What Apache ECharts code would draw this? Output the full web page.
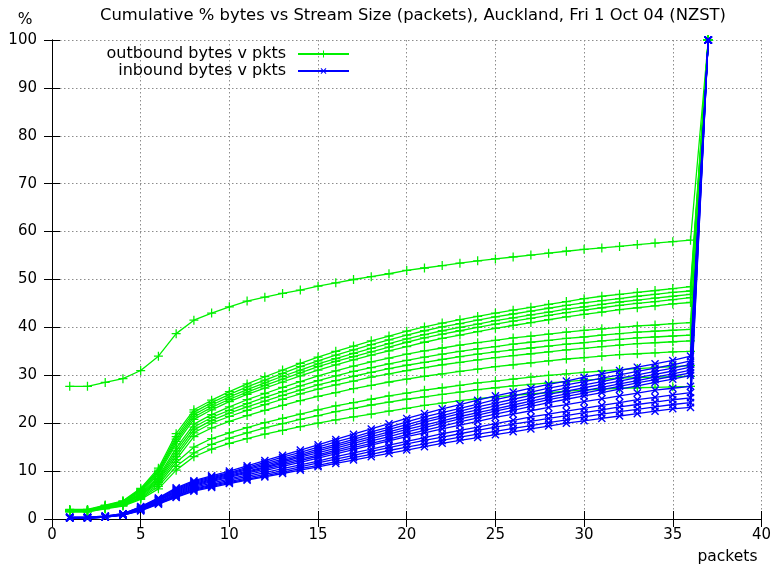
<!DOCTYPE html>
<html>
<head>
<meta charset="utf-8">
<title>Cumulative % bytes vs Stream Size</title>
<script src="https://cdn.jsdelivr.net/npm/echarts@6/dist/echarts.min.js"></script>
<style>
  html, body { margin: 0; padding: 0; background: #fff; }
  #chart { width: 774px; height: 567px; }
</style>
</head>
<body>
<div id="chart"></div>
<script>
// stream size in packets (x) and axis ticks
const packets = [1,2,3,4,5,6,7,8,9,10,11,12,13,14,15,16,17,18,19,20,21,22,23,24,25,26,27,28,29,30,31,32,33,34,35,36,37];
const xTicks = [0, 5, 10, 15, 20, 25, 30, 35, 40];
const yTicks = [0, 10, 20, 30, 40, 50, 60, 70, 80, 90, 100];

// outbound bytes v pkts, one array per trace (cumulative %)
const out01 = [27.7,27.7,28.5,29.3,31.0,34.0,38.7,41.5,43.0,44.3,45.5,46.3,47.1,47.8,48.6,49.3,50.0,50.6,51.2,51.9,52.4,52.9,53.4,53.9,54.3,54.7,55.1,55.5,55.9,56.3,56.6,56.9,57.3,57.6,57.9,58.2,100];
const out02 = [2.0,2.0,2.9,3.8,6.4,10.6,17.8,22.8,24.8,26.6,28.2,29.7,31.1,32.5,33.8,35.0,36.1,37.2,38.2,39.2,40.1,40.9,41.6,42.3,43.0,43.6,44.2,44.8,45.4,46.0,46.5,46.9,47.3,47.7,48.1,48.5,100];
const out03 = [1.9,1.9,2.8,3.7,6.2,10.2,17.2,22.3,24.3,26.0,27.6,29.0,30.4,31.8,33.0,34.2,35.3,36.4,37.4,38.4,39.3,40.1,40.8,41.5,42.2,42.8,43.4,44.0,44.6,45.1,45.6,46.0,46.5,46.9,47.3,47.6,100];
const out04 = [1.9,1.9,2.7,3.6,6.0,9.9,16.7,21.8,23.8,25.5,27.0,28.4,29.8,31.1,32.4,33.5,34.6,35.6,36.6,37.6,38.5,39.3,40.0,40.7,41.4,42.0,42.6,43.2,43.8,44.3,44.8,45.3,45.7,46.1,46.5,46.9,100];
const out05 = [1.8,1.8,2.7,3.5,5.9,9.6,16.2,21.3,23.3,25.0,26.5,27.9,29.2,30.5,31.8,32.9,33.9,34.9,35.9,36.9,37.8,38.6,39.3,40.0,40.7,41.3,41.9,42.5,43.1,43.6,44.1,44.6,45.0,45.4,45.8,46.2,100];
const out06 = [1.8,1.8,2.6,3.4,5.7,9.3,15.7,20.8,22.8,24.5,26.0,27.3,28.6,29.9,31.1,32.2,33.2,34.2,35.1,36.0,36.9,37.7,38.4,39.1,39.8,40.4,41.0,41.6,42.2,42.7,43.2,43.7,44.1,44.5,44.9,45.2,100];
const out07 = [1.8,1.8,2.6,3.4,5.4,8.8,14.8,19.8,21.8,23.4,24.9,26.2,27.5,28.7,29.9,30.9,31.9,32.8,33.6,34.4,35.1,35.7,36.3,36.8,37.3,37.8,38.2,38.6,39.0,39.4,39.7,40.0,40.3,40.5,40.8,41.0,100];
const out08 = [1.7,1.7,2.5,3.3,5.2,8.5,14.2,19.2,21.2,22.7,24.1,25.4,26.6,27.8,28.9,29.9,30.8,31.6,32.4,33.1,33.8,34.4,35.0,35.5,36.0,36.5,36.9,37.3,37.7,38.0,38.4,38.7,39.0,39.2,39.4,39.6,100];
const out09 = [1.7,1.7,2.5,3.2,5.0,8.2,13.6,18.6,20.6,22.1,23.4,24.6,25.8,26.9,28.0,28.9,29.8,30.6,31.4,32.1,32.7,33.3,33.9,34.4,34.9,35.3,35.7,36.1,36.5,36.8,37.2,37.5,37.8,38.0,38.2,38.4,100];
const out10 = [1.6,1.6,2.4,3.1,4.9,7.9,13.0,18.0,20.0,21.4,22.7,23.9,25.0,26.1,27.1,28.0,28.8,29.6,30.3,31.0,31.6,32.2,32.7,33.2,33.7,34.1,34.5,34.9,35.3,35.6,36.0,36.3,36.6,36.8,37.0,37.2,100];
const out11 = [1.6,1.6,2.3,3.0,4.7,7.6,12.4,17.2,19.0,20.4,21.6,22.7,23.7,24.7,25.6,26.4,27.2,27.9,28.6,29.2,29.8,30.3,30.8,31.3,31.8,32.2,32.6,33.0,33.4,33.7,34.0,34.3,34.5,34.7,34.9,35.0,100];
const out12 = [1.6,1.6,2.3,2.9,4.5,7.2,11.8,15.0,16.8,18.0,19.1,20.1,21.0,21.9,22.8,23.6,24.3,25.0,25.7,26.3,26.9,27.4,27.9,28.4,28.8,29.2,29.6,30.0,30.3,30.6,30.9,31.2,31.4,31.6,31.8,32.0,100];
const out13 = [1.5,1.5,2.2,2.8,4.3,6.8,11.0,13.8,15.6,16.9,18.0,19.0,19.9,20.8,21.6,22.4,23.1,23.8,24.4,25.0,25.5,26.0,26.5,27.0,27.4,27.8,28.1,28.4,28.7,29.0,29.2,29.4,29.5,29.6,29.7,29.8,100];
const out14 = [1.5,1.5,2.1,2.7,4.1,6.3,10.2,13.0,14.6,15.8,16.8,17.7,18.5,19.3,20.0,20.7,21.3,21.9,22.5,23.1,23.7,24.2,24.7,25.1,25.5,25.8,26.1,26.4,26.7,26.9,27.1,27.3,27.4,27.5,27.6,27.7,100];

// inbound bytes v pkts, one array per trace (cumulative %)
const in01 = [0.4,0.4,0.6,1.1,2.6,4.4,6.5,8.0,9.0,10.0,11.1,12.2,13.3,14.4,15.5,16.6,17.7,18.8,19.9,21.0,22.0,23.0,23.9,24.8,25.7,26.5,27.3,28.1,28.8,29.6,30.3,31.0,31.7,32.4,33.1,34.0,100];
const in02 = [0.4,0.4,0.6,1.1,2.5,4.3,6.3,7.8,8.8,9.7,10.8,11.8,12.9,13.9,15.0,16.1,17.1,18.2,19.2,20.3,21.3,22.2,23.1,24.0,24.9,25.7,26.5,27.3,28.0,28.7,29.4,30.1,30.8,31.5,32.2,33.0,100];
const in03 = [0.3,0.3,0.5,1.0,2.4,4.1,6.1,7.6,8.6,9.5,10.5,11.5,12.5,13.5,14.6,15.6,16.6,17.7,18.7,19.7,20.7,21.6,22.5,23.4,24.2,25.0,25.8,26.6,27.3,28.0,28.7,29.4,30.1,30.8,31.5,32.3,100];
const in04 = [0.3,0.3,0.5,1.0,2.3,4.0,5.9,7.4,8.4,9.3,10.3,11.2,12.2,13.2,14.2,15.2,16.2,17.2,18.2,19.2,20.2,21.1,22.0,22.8,23.6,24.4,25.2,26.0,26.7,27.4,28.1,28.8,29.5,30.2,30.9,31.7,100];
const in05 = [0.3,0.3,0.5,1.0,2.2,3.9,5.7,7.2,8.2,9.1,10.0,10.9,11.9,12.9,13.8,14.8,15.8,16.8,17.7,18.7,19.6,20.5,21.4,22.2,23.0,23.8,24.6,25.4,26.1,26.8,27.5,28.2,28.9,29.6,30.3,31.1,100];
const in06 = [0.3,0.3,0.5,0.9,2.1,3.8,5.5,7.0,8.0,8.9,9.8,10.7,11.6,12.5,13.4,14.4,15.3,16.3,17.2,18.2,19.1,20.0,20.9,21.7,22.5,23.3,24.1,24.9,25.6,26.3,27.0,27.7,28.4,29.1,29.8,30.5,100];
const in07 = [0.2,0.2,0.4,0.9,2.0,3.6,5.3,6.8,7.8,8.7,9.6,10.4,11.3,12.2,13.1,14.0,14.9,15.8,16.7,17.6,18.5,19.4,20.3,21.1,21.9,22.7,23.5,24.3,25.0,25.7,26.4,27.1,27.8,28.5,29.2,30.0,100];
const in08 = [0.3,0.3,0.5,0.9,2.0,3.5,5.1,6.6,7.5,8.4,9.2,10.1,11.0,11.8,12.7,13.6,14.5,15.4,16.3,17.2,18.0,18.8,19.6,20.4,21.2,21.9,22.6,23.3,23.9,24.5,25.1,25.7,26.3,26.9,27.3,27.7,100];
const in09 = [0.2,0.2,0.4,0.9,1.9,3.4,4.9,6.4,7.2,8.1,8.9,9.7,10.5,11.3,12.1,13.0,13.8,14.6,15.4,16.2,17.0,17.8,18.5,19.2,19.9,20.6,21.3,21.9,22.5,23.1,23.7,24.3,24.9,25.4,25.9,26.4,100];
const in10 = [0.2,0.2,0.4,0.8,1.9,3.3,4.8,6.2,7.0,7.8,8.6,9.3,10.1,10.9,11.7,12.5,13.3,14.1,14.9,15.7,16.4,17.1,17.8,18.5,19.2,19.8,20.4,21.0,21.6,22.2,22.8,23.4,23.9,24.4,24.9,25.3,100];
const in11 = [0.2,0.2,0.4,0.8,1.8,3.2,4.6,6.0,6.8,7.6,8.3,9.0,9.8,10.5,11.2,12.0,12.8,13.5,14.3,15.0,15.7,16.4,17.1,17.7,18.3,18.9,19.5,20.1,20.7,21.3,21.9,22.4,22.9,23.4,23.9,24.3,100];
const in12 = [0.2,0.2,0.4,0.8,1.7,3.1,4.5,5.8,6.6,7.4,8.1,8.8,9.5,10.2,10.9,11.6,12.3,13.0,13.7,14.4,15.1,15.8,16.4,17.0,17.6,18.2,18.8,19.4,20.0,20.5,21.0,21.5,22.0,22.5,23.0,23.3,100];

const outboundTraces = [out01, out02, out03, out04, out05, out06, out07, out08, out09, out10, out11, out12, out13, out14];
const inboundTraces = [in01, in02, in03, in04, in05, in06, in07, in08, in09, in10, in11, in12];

const OUT_NAME = 'outbound bytes v pkts';
const IN_NAME = 'inbound bytes v pkts';
const FONT = 'DejaVu Sans';

// gnuplot style point markers: a filled plus ('x' is the same shape rotated)
const plusPath = 'path://M4.3,0H5.7V4.3H10V5.7H5.7V10H4.3V5.7H0V4.3H4.3Z';

function toPoints(values) {
  return packets.map((p, i) => [p, values[i]]);
}

function makeSeries(values, name, color, rotate, z) {
  return {
    name: name,
    type: 'line',
    data: toPoints(values),
    symbol: plusPath,
    symbolSize: rotate ? 10 : 9,
    symbolRotate: rotate,
    showSymbol: true,
    z: z,
    lineStyle: { color: color, width: 1.3 },
    itemStyle: { color: color },
    emphasis: { disabled: true }
  };
}

const series = [];
outboundTraces.forEach(t => series.push(makeSeries(t, OUT_NAME, '#00f000', 0, 2)));
inboundTraces.forEach(t => series.push(makeSeries(t, IN_NAME, '#0000ff', 45, 3)));

const chart = echarts.init(document.getElementById('chart'));
const gridLine = { show: true, lineStyle: { color: '#8c8c8c', type: [1.5, 2.5], width: 1 } };
const borderLine = { show: true, lineStyle: { color: '#000', width: 1 } };
const legendText = { fontFamily: FONT, fontSize: 16, color: '#000', padding: [0, 7, 0, 0] };

chart.setOption({
  animation: false,
  backgroundColor: '#fff',
  textStyle: { fontFamily: FONT },
  title: {
    text: 'Cumulative % bytes vs Stream Size (packets), Auckland, Fri 1 Oct 04 (NZST)',
    left: 408,
    top: 3,
    textAlign: 'center',
    textStyle: { fontFamily: FONT, fontSize: 16.4, fontWeight: 'normal', color: '#000' }
  },
  legend: [
    {
      data: [OUT_NAME],
      right: 424,
      top: 46,
      padding: 0,
      align: 'right',
      itemWidth: 51,
      itemHeight: 9,
      selectedMode: false,
      textStyle: legendText
    },
    {
      data: [IN_NAME],
      right: 424,
      top: 63,
      padding: 0,
      align: 'right',
      itemWidth: 51,
      itemHeight: 9,
      selectedMode: false,
      textStyle: legendText
    }
  ],
  grid: { left: 52, right: 12, top: 40, bottom: 48 },
  xAxis: [
    {
      type: 'value',
      min: xTicks[0],
      max: xTicks[xTicks.length - 1],
      interval: xTicks[1] - xTicks[0],
      name: 'packets',
      nameLocation: 'end',
      nameGap: -4,
      nameTextStyle: { fontFamily: FONT, fontSize: 15.5, color: '#000', align: 'right', verticalAlign: 'top', padding: [30, 0, 0, 0] },
      axisLine: borderLine,
      axisTick: { show: true, inside: true, length: 8, lineStyle: { color: '#000' } },
      axisLabel: { fontFamily: FONT, fontSize: 15, color: '#000', margin: 9 },
      splitLine: gridLine
    },
    {
      type: 'value',
      position: 'top',
      min: xTicks[0],
      max: xTicks[xTicks.length - 1],
      interval: xTicks[1] - xTicks[0],
      axisLine: borderLine,
      axisTick: { show: true, inside: true, length: 8, lineStyle: { color: '#000' } },
      axisLabel: { show: false },
      splitLine: { show: false }
    }
  ],
  yAxis: [
    {
      type: 'value',
      min: yTicks[0],
      max: yTicks[yTicks.length - 1],
      interval: yTicks[1] - yTicks[0],
      name: '%',
      nameLocation: 'end',
      nameGap: 12,
      nameTextStyle: { fontFamily: FONT, fontSize: 15.5, color: '#000', padding: [0, 54, 0, 0] },
      axisLine: borderLine,
      axisTick: { show: true, inside: true, length: 8, lineStyle: { color: '#000' } },
      axisLabel: { fontFamily: FONT, fontSize: 15, color: '#000', margin: 15 },
      splitLine: gridLine
    },
    {
      type: 'value',
      position: 'right',
      min: yTicks[0],
      max: yTicks[yTicks.length - 1],
      interval: yTicks[1] - yTicks[0],
      axisLine: borderLine,
      axisTick: { show: true, inside: true, length: 8, lineStyle: { color: '#000' } },
      axisLabel: { show: false },
      splitLine: { show: false }
    }
  ],
  series: series
});

window.addEventListener('resize', () => chart.resize());
</script>
</body>
</html>
